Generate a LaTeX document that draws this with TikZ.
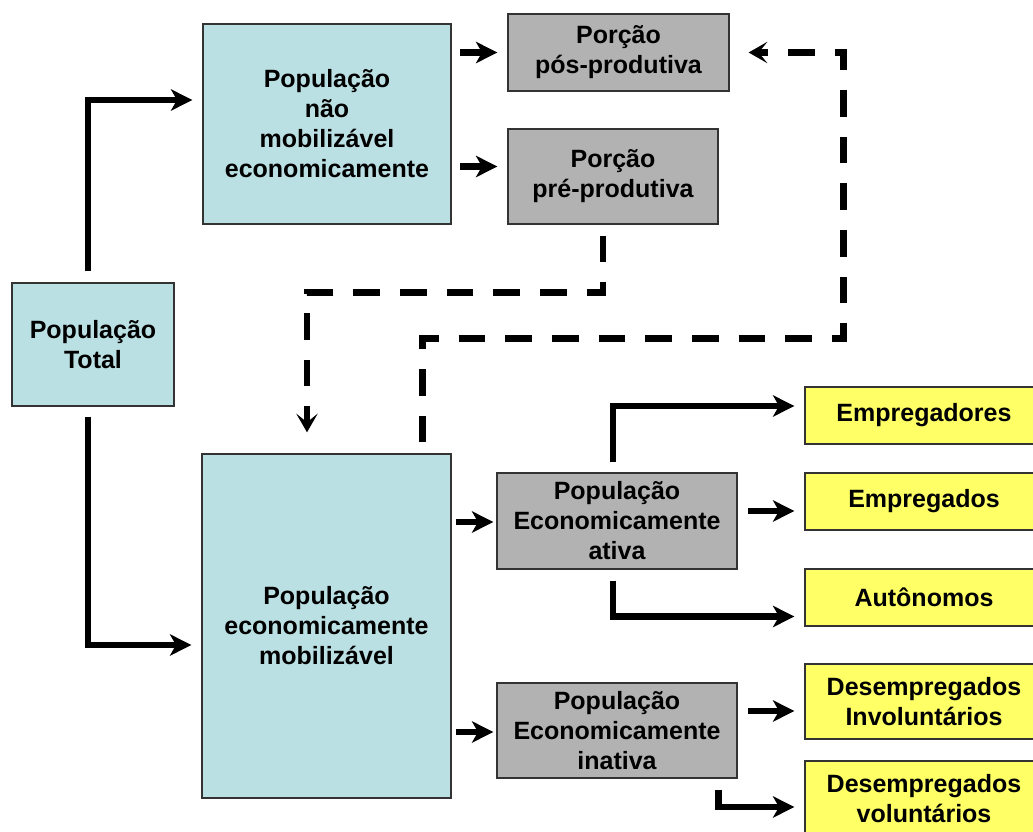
\documentclass[tikz,border=0pt]{standalone}
\usepackage{fontspec}
\setmainfont{Liberation Sans}
\usetikzlibrary{arrows.meta,calc}
\definecolor{lblue}{RGB}{187,224,227}
\definecolor{lgray}{RGB}{178,178,178}
\definecolor{lyel}{RGB}{255,255,102}
\begin{document}
\begin{tikzpicture}[x=0.75pt,y=-0.75pt,
  box/.style={draw=black!80,line width=1pt,align=center,inner sep=0pt,
    font=\bfseries\fontsize{18.75pt}{22.5pt}\selectfont},
  dims/.style 2 args={minimum width=#1*0.75pt,minimum height=#2*0.75pt},
  bluebox/.style={box,fill=lblue},
  graybox/.style={box,fill=lgray},
  yelbox/.style={box,fill=lyel},
  arr/.style={line width=4.8pt,-{Stealth[length=16pt,width=16pt,inset=4.5pt]}},
  dsh/.style={line width=4.8pt,dash pattern=on 20pt off 15pt,-{Stealth[length=14pt,width=16pt,inset=6.5pt]}}]
\clip (0,0) rectangle (1033,832);
\fill[white] (0,0) rectangle (1033,832);

\node[bluebox,dims={162}{123}] (tot) at (93,344.5) {População\\Total};
\node[bluebox,dims={248}{200}] (nm) at (327,124) {População\\não\\mobilizável\\economicamente};
\node[graybox,dims={221}{77}] (pos) at (618.5,52.5) {Porção\\pós-produtiva};
\node[graybox,dims={210}{95}] (pre) at (613,176.5) {Porção\\pré-produtiva};
\node[bluebox,dims={249}{344}] (mob) at (326.5,626) {População\\economicamente\\mobilizável};
\node[graybox,dims={240}{96}] (pea) at (617,521) {População\\Economicamente\\ativa};
\node[graybox,dims={240}{95}] (pei) at (617,730.5) {População\\Economicamente\\inativa};
\node[yelbox,dims={238}{57}] (emp1) at (924,415.5) {Empregadores};
\node[yelbox,dims={238}{57}] (emp2) at (924,501.5) {Empregados};
\node[yelbox,dims={238}{57}] (aut) at (924,597.5) {Autônomos};
\node[yelbox,dims={238}{75}] (dinv) at (924,701.5) {Desempregados\\Involuntários};
\node[yelbox,dims={238}{75}] (dvol) at (924,798.5) {Desempregados\\voluntários};

\draw[arr] ($(tot.north)+(-5,-11)$) |- ($(nm.west)+(-10,-24)$);
\draw[arr] ($(tot.south)+(-5,10)$) |- ($(mob.west)+(-10,19)$);
\draw[arr] ($(pos.west)+(-47,0)$) -- ($(pos.west)+(-10,0)$);
\draw[arr] ($(pre.west)+(-47,-10)$) -- ($(pre.west)+(-10,-10)$);
\draw[arr] ($(pea.west)+(-40,1)$) -- ($(pea.west)+(-3,1)$);
\draw[arr] ($(pei.west)+(-40,1.5)$) -- ($(pei.west)+(-3,1.5)$);
\draw[arr] ($(pea.north)+(-4,-10)$) |- ($(emp1.west)+(-10,-9.5)$);
\draw[arr] ($(pea.east)+(10,-10)$) -- ($(emp2.west)+(-10,9.5)$);
\draw[arr] ($(pea.south)+(-4,11)$) |- ($(aut.west)+(-10,19)$);
\draw[arr] ($(pei.east)+(10,-19.5)$) -- ($(dinv.west)+(-10,9.5)$);
\draw[arr] ($(pei.south east)+(-19,11)$) |- ($(dvol.west)+(-10,8.5)$);

\draw[dsh] ($(pre.south)+(-10,11)$) -- ++(0,57) -| ($(mob.north)+(-19.5,-21)$);
\draw[dsh] ($(mob.north east)+(-29,-11)$) -- ++(0,-104) -- ++(421,0) |- ($(pos.east)+(19,0)$);
\end{tikzpicture}
\end{document}
